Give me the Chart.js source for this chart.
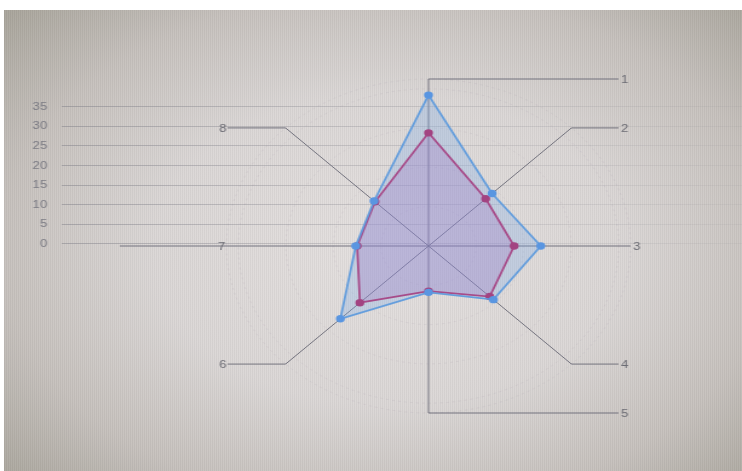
<!DOCTYPE html>
<html><head><meta charset="utf-8">
<script src="https://cdn.jsdelivr.net/npm/chart.js@4"></script>
<style>
html,body{margin:0;padding:0;background:#ffffff;overflow:hidden;width:742px;height:471px}
#bg{position:absolute;left:4px;top:10px;width:738px;height:461px;
background:
 repeating-linear-gradient(90deg, rgba(0,0,0,0.035) 0px, rgba(0,0,0,0.035) 1px, rgba(255,255,255,0.03) 1px, rgba(255,255,255,0.03) 2px),
 radial-gradient(ellipse 70% 75% at 52% 52%, #e4e0df 0%, #dbd7d6 45%, #c6c1bd 75%, #aaa69d 100%);}
#c{position:absolute;left:0;top:0;width:742px !important;height:471px !important}
</style></head><body>
<div id="bg"></div>
<canvas id="c" width="613" height="471" style="width:742px;height:471px"></canvas>
<script>
// ---- data ----
const categories = ['1','2','3','4','5','6','7','8'];
const seriesBlue = [38.4, 18.9, 23.6, 19.3, 11.8, 26.2, 15.3, 16.2];
const seriesRed  = [28.8, 17.0, 18.0, 18.2, 11.5, 20.4, 15.0, 15.9];
const tickValues = [0, 5, 10, 15, 20, 25, 30, 35];

// ---- layout / style constants ----
const RIGHT_X = 511, LEFT_X = 188, FAR_LEFT_X = 99;

const canvas = document.getElementById('c');
const ctx0 = canvas.getContext('2d');
const gridGrad = ctx0.createLinearGradient(51, 0, 613, 0);
gridGrad.addColorStop(0, 'rgba(120,120,130,0.45)');
gridGrad.addColorStop(0.45, 'rgba(120,120,130,0.26)');
gridGrad.addColorStop(1, 'rgba(120,120,130,0.07)');

const leaderPlugin = {
  id: 'leaders',
  beforeDatasetsDraw(chart) {
    const r = chart.scales.r, ctx = chart.ctx;
    ctx.save();
    ctx.strokeStyle = 'rgba(105,105,118,0.9)';
    ctx.lineWidth = 1;
    ctx.font = '11px "Liberation Sans", Arial, sans-serif';
    ctx.fillStyle = '#6c6c74';
    ctx.textBaseline = 'middle';
    categories.forEach((lab, i) => {
      const p = r.getPointPosition(i, r.drawingArea);
      const right = p.x >= r.xCenter - 1;
      ctx.beginPath();
      ctx.moveTo(p.x, p.y);
      if (right) {
        const ex = Math.max(RIGHT_X, p.x);
        ctx.lineTo(ex, p.y);
        ctx.stroke();
        ctx.textAlign = 'left';
        ctx.fillText(lab, ex + 2, p.y + 1);
      } else {
        const isHoriz = Math.abs(p.y - r.yCenter) < 1;
        const ex = isHoriz ? FAR_LEFT_X : Math.min(LEFT_X, p.x);
        ctx.lineTo(ex, p.y);
        ctx.stroke();
        ctx.textAlign = 'right';
        ctx.fillText(lab, (isHoriz ? p.x : ex) - 1, p.y + 1);
      }
    });
    ctx.restore();
  }
};

new Chart(canvas, {
  type: 'radar',
  data: {
    labels: categories,
    datasets: [
      {
        label: 'A',
        data: seriesBlue,
        borderColor: 'rgba(95,155,220,0.95)',
        backgroundColor: 'rgba(120,170,235,0.28)',
        pointBackgroundColor: 'rgb(90,150,225)',
        pointBorderColor: 'rgb(90,150,225)',
        borderWidth: 1.8,
        pointRadius: 2.8,
        fill: true
      },
      {
        label: 'B',
        data: seriesRed,
        borderColor: 'rgb(185,40,100)',
        backgroundColor: 'rgba(175,90,175,0.28)',
        pointBackgroundColor: 'rgb(180,30,90)',
        pointBorderColor: 'rgb(180,30,90)',
        borderWidth: 1.8,
        pointRadius: 2.8,
        fill: true
      }
    ]
  },
  options: {
    responsive: false,
    animation: false,
    layout: { padding: { left: 0, right: 0, top: 79, bottom: 58 } },
    plugins: { legend: { display: false }, tooltip: { enabled: false } },
    scales: {
      r: {
        min: 0, max: 42.5,
        ticks: { display: false, stepSize: 10 },
        pointLabels: { display: false },
        angleLines: { color: 'rgba(105,105,118,0.9)', lineWidth: 1 },
        grid: { circular: true, color: 'rgba(150,130,155,0.13)', lineWidth: 1 },
        border: { dash: [2, 3] }
      },
      y: {
        type: 'linear',
        position: 'left',
        min: -43.08, max: 42.06,
        afterBuildTicks: (s) => { s.ticks = tickValues.map(v => ({ value: v })); },
        afterFit: (s) => { s.width = 95; },
        ticks: {
          padding: 12,
          color: '#7c7c84',
          font: { family: '"Liberation Sans", Arial, sans-serif', size: 11 }
        },
        grid: { color: gridGrad, lineWidth: 1, drawTicks: true, tickLength: 44 },
        border: { display: false }
      }
    }
  },
  plugins: [leaderPlugin]
});
</script>
</body></html>
